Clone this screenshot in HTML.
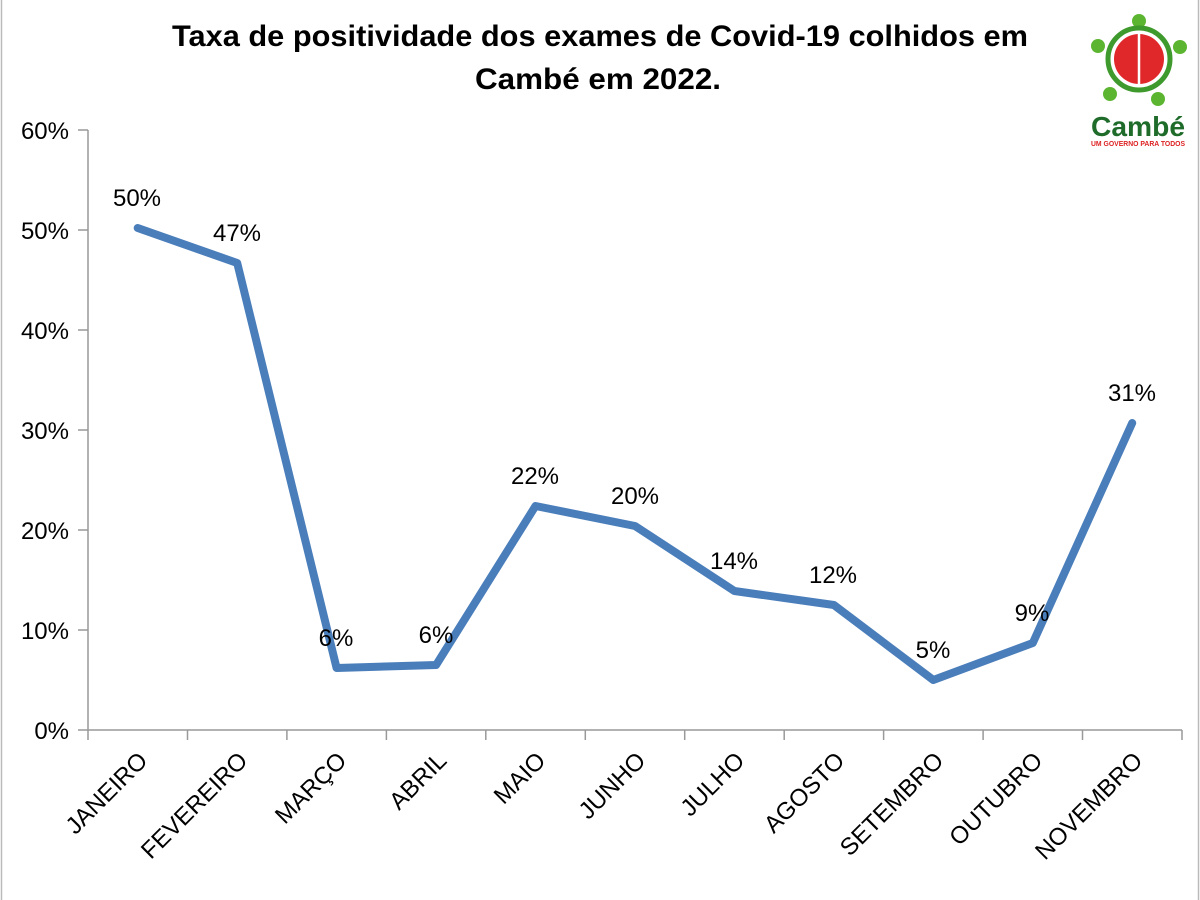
<!DOCTYPE html>
<html><head><meta charset="utf-8"><style>
html,body{margin:0;padding:0;background:#fff;}
svg{display:block;font-family:"Liberation Sans",sans-serif;}
</style></head><body>
<svg width="1200" height="900" viewBox="0 0 1200 900" xmlns="http://www.w3.org/2000/svg">
<rect x="0" y="0" width="1200" height="900" fill="#fff"/>
<line x1="1.5" y1="0" x2="1.5" y2="900" stroke="#bbb" stroke-width="1.5"/>
<line x1="1198.5" y1="0" x2="1198.5" y2="900" stroke="#bbb" stroke-width="1.5"/>
<text x="600" y="46" text-anchor="middle" font-size="30" font-weight="bold" fill="#000" textLength="856" lengthAdjust="spacingAndGlyphs">Taxa de positividade dos exames de Covid-19 colhidos em</text>
<text x="598" y="89" text-anchor="middle" font-size="30" font-weight="bold" fill="#000" textLength="246" lengthAdjust="spacingAndGlyphs">Cambé em 2022.</text>
<!-- logo -->
<g>
<circle cx="1139" cy="21" r="7" fill="#5cb531"/>
<circle cx="1098" cy="46" r="7" fill="#5cb531"/>
<circle cx="1180" cy="47" r="7" fill="#5cb531"/>
<circle cx="1110" cy="94" r="7" fill="#5cb531"/>
<circle cx="1158" cy="99" r="7" fill="#5cb531"/>
<circle cx="1139" cy="59" r="31" fill="none" stroke="#3f9a2d" stroke-width="5"/>
<circle cx="1139" cy="59" r="25" fill="#e0282a"/>
<line x1="1139" y1="34" x2="1139" y2="84" stroke="#fff" stroke-width="2.5"/>
<text x="1138" y="136" text-anchor="middle" font-size="28" font-weight="bold" fill="#1e6b2a" textLength="94" lengthAdjust="spacingAndGlyphs">Cambé</text>
<text x="1138" y="146" text-anchor="middle" font-size="7" font-weight="bold" fill="#d22" textLength="94" lengthAdjust="spacingAndGlyphs">UM GOVERNO PARA TODOS</text>
</g>
<!-- axes -->
<g stroke="#999" stroke-width="1.5" fill="none">
<line x1="88" y1="130" x2="88" y2="730"/>
<line x1="88" y1="730" x2="1182" y2="730"/>
<line x1="78" y1="130" x2="88" y2="130"/>
<line x1="78" y1="230" x2="88" y2="230"/>
<line x1="78" y1="330" x2="88" y2="330"/>
<line x1="78" y1="430" x2="88" y2="430"/>
<line x1="78" y1="530" x2="88" y2="530"/>
<line x1="78" y1="630" x2="88" y2="630"/>
<line x1="78" y1="730" x2="88" y2="730"/>
<line x1="88" y1="730" x2="88" y2="740"/>
<line x1="187.5" y1="730" x2="187.5" y2="740"/>
<line x1="286.9" y1="730" x2="286.9" y2="740"/>
<line x1="386.4" y1="730" x2="386.4" y2="740"/>
<line x1="485.8" y1="730" x2="485.8" y2="740"/>
<line x1="585.3" y1="730" x2="585.3" y2="740"/>
<line x1="684.7" y1="730" x2="684.7" y2="740"/>
<line x1="784.2" y1="730" x2="784.2" y2="740"/>
<line x1="883.6" y1="730" x2="883.6" y2="740"/>
<line x1="983.1" y1="730" x2="983.1" y2="740"/>
<line x1="1082.5" y1="730" x2="1082.5" y2="740"/>
<line x1="1182" y1="730" x2="1182" y2="740"/>
</g>
<g font-size="24" fill="#000" text-anchor="end">
<text x="69" y="139">60%</text>
<text x="69" y="239">50%</text>
<text x="69" y="339">40%</text>
<text x="69" y="439">30%</text>
<text x="69" y="539">20%</text>
<text x="69" y="639">10%</text>
<text x="69" y="739">0%</text>
</g>
<g font-size="24" fill="#000" text-anchor="end">
<text transform="translate(149,762) rotate(-45)">JANEIRO</text>
<text transform="translate(249,762) rotate(-45)">FEVEREIRO</text>
<text transform="translate(348,762) rotate(-45)">MARÇO</text>
<text transform="translate(448,762) rotate(-45)">ABRIL</text>
<text transform="translate(547,762) rotate(-45)">MAIO</text>
<text transform="translate(647,762) rotate(-45)">JUNHO</text>
<text transform="translate(746,762) rotate(-45)">JULHO</text>
<text transform="translate(846,762) rotate(-45)">AGOSTO</text>
<text transform="translate(945,762) rotate(-45)">SETEMBRO</text>
<text transform="translate(1044,762) rotate(-45)">OUTUBRO</text>
<text transform="translate(1144,762) rotate(-45)">NOVEMBRO</text>
</g>
<polyline fill="none" stroke="#4a7ebb" stroke-width="8" stroke-linejoin="round" stroke-linecap="round"
points="137.7,228 237.2,263 336.6,668 436.1,665 535.5,506 635,526 734.4,591 833.9,605 933.3,680 1032.8,643 1132.2,423"/>
<g font-size="24" fill="#000" text-anchor="middle">
<text x="137" y="206">50%</text>
<text x="237" y="241">47%</text>
<text x="336" y="646">6%</text>
<text x="436" y="643">6%</text>
<text x="535" y="484">22%</text>
<text x="635" y="504">20%</text>
<text x="734" y="569">14%</text>
<text x="833" y="583">12%</text>
<text x="933" y="658">5%</text>
<text x="1032" y="621">9%</text>
<text x="1132" y="401">31%</text>
</g>
</svg>
</body></html>
